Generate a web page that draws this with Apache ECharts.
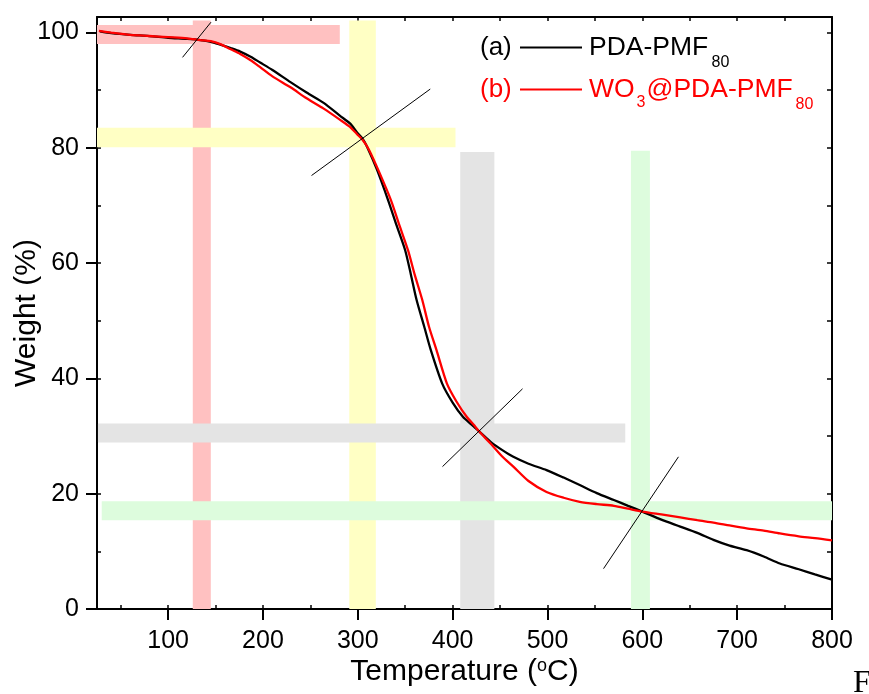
<!DOCTYPE html>
<html>
<head>
<meta charset="utf-8">
<script src="https://cdn.jsdelivr.net/npm/echarts@6/dist/echarts.min.js"></script>
<style>
html,body{margin:0;padding:0;background:#fff;}
#chart{width:869px;height:694px;}
</style>
</head>
<body>
<div id="chart"></div>
<script>
// ---- data ----
const xTicks = [100, 200, 300, 400, 500, 600, 700, 800];
const yTicks = [0, 20, 40, 60, 80, 100];
const xMinorTicks = [50, 100, 150, 200, 250, 300, 350, 400, 450, 500, 550, 600, 650, 700, 750, 800];
const yMinorTicks = [10, 20, 30, 40, 50, 60, 70, 80, 90, 100];

// (a) PDA-PMF80
const pdaT = [28, 40, 60, 80, 100, 120, 134, 145, 155, 166, 176, 187, 197, 210, 229, 246, 264, 281, 292, 299, 305, 310, 320, 332, 341, 350, 356, 362, 370, 377, 389, 400, 411, 420, 428, 440, 452, 464, 480, 499, 517, 534, 552, 570, 585, 600, 620, 640, 658, 675, 692, 710, 728, 745, 765, 782, 800];
const pdaW = [100.2, 99.9, 99.6, 99.4, 99.1, 98.9, 98.7, 98.4, 97.9, 97.3, 96.7, 95.8, 94.8, 93.5, 91.4, 89.6, 87.8, 85.6, 84.2, 82.7, 81.6, 80.1, 76.3, 70.9, 66.5, 62.2, 58.0, 53.6, 49.0, 44.9, 39.1, 35.8, 33.3, 32.0, 30.8, 29.0, 27.6, 26.4, 25.2, 24.1, 22.8, 21.5, 20.1, 18.9, 17.9, 16.9, 15.5, 14.3, 13.2, 12.0, 11.0, 10.2, 9.1, 7.9, 6.9, 6.0, 5.1];

// (b) WO3@PDA-PMF80
const wo3T = [27, 40, 60, 80, 100, 120, 134, 145, 155, 166, 176, 187, 197, 210, 229, 246, 264, 281, 292, 299, 305, 312, 322, 335, 344, 353, 360, 368, 375, 383, 394, 404, 415, 422, 428, 440, 452, 464, 480, 499, 517, 534, 552, 570, 585, 600, 620, 640, 658, 675, 692, 710, 728, 745, 765, 782, 800];
const wo3W = [100.3, 100.0, 99.6, 99.4, 99.2, 99.0, 98.7, 98.5, 98.0, 97.1, 96.3, 95.2, 94.0, 92.4, 90.5, 88.6, 86.8, 84.9, 83.6, 82.4, 81.4, 79.6, 76.0, 70.9, 66.5, 62.2, 58.0, 53.6, 49.0, 44.9, 39.1, 36.0, 33.3, 32.0, 30.8, 28.7, 26.5, 24.7, 22.2, 20.3, 19.3, 18.6, 18.2, 17.9, 17.4, 16.9, 16.4, 15.9, 15.4, 15.0, 14.5, 14.0, 13.6, 13.1, 12.6, 12.3, 11.9];

// tangent construction lines [[T1, W1], [T2, W2]]
const tangent1 = [[115.2, 95.7], [145.2, 101.8]];
const tangent2 = [[251.2, 75.2], [376.4, 90.2]];
const tangent3 = [[389.3, 24.7], [473.7, 38.2]];
const tangent4 = [[559.1, 7.0], [638.1, 26.4]];

// highlight bands: [T from, T to, W from, W to]
const bandPinkV   = [126, 145, 0, 102.1];
const bandYellowV = [291, 319, 0, 102.1];
const bandGrayV   = [408, 444, 0, 79.3];
const bandGreenV  = [588, 608, 0, 79.5];
const bandPinkH   = [25, 281, 98.0, 101.3];
const bandYellowH = [25, 403, 80.1, 83.5];
const bandGrayH   = [26, 582, 28.9, 32.2];
const bandGreenH  = [30, 800, 15.4, 18.7];

// ---- styles ----
const FONT = 'Liberation Sans, Arial, sans-serif';
const PINK = '#ffc1c1', YELLOW = '#ffffc4', GRAY = '#e4e4e4', GREEN = '#ddfcdd';
const RED = '#ff0000';

function area(b, color) {
  return [{ xAxis: b[0], yAxis: b[2], itemStyle: { color: color, opacity: 1, borderWidth: 0 } },
          { xAxis: b[1], yAxis: b[3] }];
}
function pairs(xs, ys) { return xs.map((x, i) => [x, ys[i]]); }

const X_MIN = 25, X_MAX = 800, Y_MIN = 0, Y_MAX = 102.7;

const chart = echarts.init(document.getElementById('chart'), null, { renderer: 'canvas' });

const hiddenAxisBase = {
  type: 'value', axisLabel: { show: false }, splitLine: { show: false }, axisLine: { show: false }
};

const option = {
  backgroundColor: '#ffffff',
  animation: false,
  grid: { left: 97, right: 37, top: 17, bottom: 85, containLabel: false, outerBoundsMode: 'none' },
  xAxis: [
    {
      type: 'value', position: 'bottom', min: X_MIN, max: X_MAX,
      axisLine: { onZero: false, lineStyle: { color: '#000', width: 2 } },
      axisTick: { show: true, inside: false, length: 11, customValues: xTicks, lineStyle: { color: '#000', width: 2 } },
      axisLabel: { customValues: xTicks, margin: 20, color: '#000', fontSize: 25, fontFamily: FONT },
      splitLine: { show: false },
      name: 'Temperature ({sup|o}C)', nameLocation: 'middle', nameGap: 48, nameMoveOverlap: false,
      nameTextStyle: { color: '#000', fontSize: 30, fontFamily: FONT,
        rich: { sup: { fontSize: 18, fontFamily: FONT, color: '#000', verticalAlign: 'top' } } }
    },
    Object.assign({}, hiddenAxisBase, {
      position: 'bottom', min: X_MIN, max: X_MAX,
      axisTick: { show: true, inside: true, length: 4, customValues: xMinorTicks, lineStyle: { color: '#000', width: 1.5 } }
    }),
    Object.assign({}, hiddenAxisBase, {
      position: 'top', min: X_MIN, max: X_MAX,
      axisLine: { show: true, onZero: false, lineStyle: { color: '#000', width: 2 } },
      axisTick: { show: true, inside: true, length: 4, customValues: xMinorTicks, lineStyle: { color: '#000', width: 1.5 } }
    })
  ],
  yAxis: [
    {
      type: 'value', position: 'left', min: Y_MIN, max: Y_MAX,
      axisLine: { show: true, onZero: false, lineStyle: { color: '#000', width: 2 } },
      axisTick: { show: true, inside: false, length: 11, customValues: yTicks, lineStyle: { color: '#000', width: 2 } },
      axisLabel: { customValues: yTicks, margin: 18, color: '#000', fontSize: 25, fontFamily: FONT },
      splitLine: { show: false },
      name: 'Weight (%)', nameLocation: 'middle', nameGap: 55, nameRotate: 90, nameMoveOverlap: false,
      nameTextStyle: { color: '#000', fontSize: 30, fontFamily: FONT }
    },
    Object.assign({}, hiddenAxisBase, {
      position: 'left', min: Y_MIN, max: Y_MAX,
      axisTick: { show: true, inside: true, length: 4, customValues: yMinorTicks, lineStyle: { color: '#000', width: 1.5 } }
    }),
    Object.assign({}, hiddenAxisBase, {
      position: 'right', min: Y_MIN, max: Y_MAX,
      axisLine: { show: true, onZero: false, lineStyle: { color: '#000', width: 2 } },
      axisTick: { show: true, inside: true, length: 5, customValues: [0].concat(yMinorTicks), lineStyle: { color: '#000', width: 1.5 } }
    })
  ],
  series: [
    {
      name: 'bandsV', type: 'line', data: [], z: 1, silent: true,
      markArea: { silent: true, z: 1, label: { show: false }, emphasis: { disabled: true },
        data: [area(bandPinkV, PINK), area(bandYellowV, YELLOW), area(bandGrayV, GRAY), area(bandGreenV, GREEN)] }
    },
    {
      name: 'bandsH', type: 'line', data: [], z: 2, silent: true,
      markArea: { silent: true, z: 2, label: { show: false }, emphasis: { disabled: true },
        data: [area(bandPinkH, PINK), area(bandYellowH, YELLOW), area(bandGrayH, GRAY), area(bandGreenH, GREEN)] }
    },
    {
      name: 'PDA-PMF80', type: 'line', data: pairs(pdaT, pdaW), showSymbol: false, smooth: 0.25, z: 4,
      lineStyle: { color: '#000', width: 2.3 }, itemStyle: { color: '#000' }, silent: true
    },
    {
      name: 'WO3@PDA-PMF80', type: 'line', data: pairs(wo3T, wo3W), showSymbol: false, smooth: 0.25, z: 5,
      lineStyle: { color: RED, width: 2.3 }, itemStyle: { color: RED }, silent: true
    }
  ].concat([tangent1, tangent2, tangent3, tangent4].map((t, i) => ({
      name: 'tangent' + (i + 1), type: 'line', data: t, showSymbol: false, z: 6, silent: true,
      lineStyle: { color: '#000', width: 1 }
  }))),
  graphic: [
    { type: 'text', z: 10, x: 480, y: 48, style: { text: '(a)', font: '26px ' + FONT, fill: '#000', verticalAlign: 'middle' } },
    { type: 'line', z: 10, shape: { x1: 520, y1: 47.5, x2: 582, y2: 47.5 }, style: { stroke: '#000', lineWidth: 2 } },
    { type: 'text', z: 10, x: 589, y: 48, style: { text: 'PDA-PMF', font: '26.5px ' + FONT, fill: '#000', verticalAlign: 'middle' } },
    { type: 'text', z: 10, x: 711.5, y: 63, style: { text: '80', font: '16px ' + FONT, fill: '#000', verticalAlign: 'middle' } },
    { type: 'text', z: 10, x: 480, y: 90, style: { text: '(b)', font: '26px ' + FONT, fill: RED, verticalAlign: 'middle' } },
    { type: 'line', z: 10, shape: { x1: 520, y1: 89.5, x2: 582, y2: 89.5 }, style: { stroke: RED, lineWidth: 2 } },
    { type: 'text', z: 10, x: 589, y: 90, style: { text: 'WO', font: '26.5px ' + FONT, fill: RED, verticalAlign: 'middle' } },
    { type: 'text', z: 10, x: 636.5, y: 103, style: { text: '3', font: '16px ' + FONT, fill: RED, verticalAlign: 'middle' } },
    { type: 'text', z: 10, x: 646.5, y: 90, style: { text: '@PDA-PMF', font: '26.5px ' + FONT, fill: RED, verticalAlign: 'middle' } },
    { type: 'text', z: 10, x: 795.5, y: 104.5, style: { text: '80', font: '16px ' + FONT, fill: RED, verticalAlign: 'middle' } },
    { type: 'text', z: 10, x: 853, y: 683.5, style: { text: 'F', font: '32px Liberation Serif, Times New Roman, serif', fill: '#000', verticalAlign: 'middle' } }
  ]
};

chart.setOption(option);
</script>
</body>
</html>
